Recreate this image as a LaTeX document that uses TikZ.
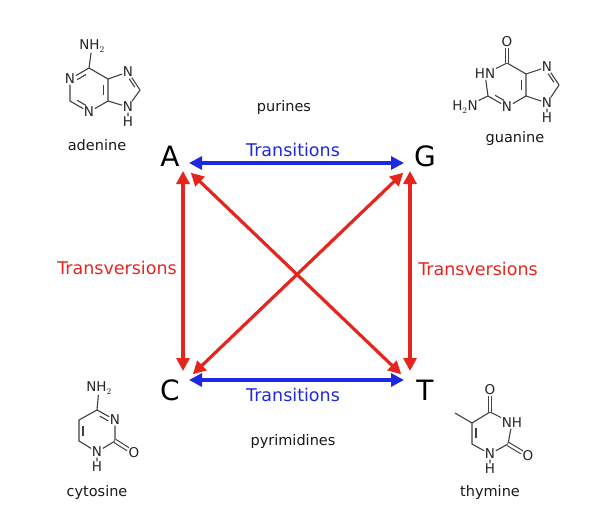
\documentclass[tikz,border=0pt]{standalone}
\usepackage{fontspec}
\setmainfont{DejaVu Sans}
\usetikzlibrary{arrows.meta,calc}
\definecolor{tred}{RGB}{228,38,30}
\definecolor{tblue}{RGB}{30,40,225}
\newcommand{\innerbond}[3]{\draw[bond] ($ ($(#1)!0.2!(#2)$)!0.22!(#3) $) -- ($ ($(#2)!0.2!(#1)$)!0.22!(#3) $);}
\begin{document}
\begin{tikzpicture}[x=1pt,y=-1pt,
  bond/.style={line width=1.1pt,draw=black!75},
  atom/.style={font=\fontsize{13.5}{13.5}\selectfont,inner sep=0.6pt,text=black!85},
  lbl/.style={font=\fontsize{14.5}{14.5}\selectfont,text=black!90},
  base/.style={font=\fontsize{28}{28}\selectfont},
  red arr/.style={draw=tred,line width=3.2pt,{Triangle[length=13pt,width=13pt]}-{Triangle[length=13pt,width=13pt]},shorten <=1pt,shorten >=1pt},
  blue arr/.style={red arr,draw=tblue},
  ttl/.style={font=\fontsize{17.5}{17.5}\selectfont}]
\useasboundingbox (0,0) rectangle (607,527);
% bases
\node[base] (A) at (170,156) {A};
\node[base] (G) at (425,156) {G};
\node[base] (C) at (170,390) {C};
\node[base] (T) at (425,390) {T};
\coordinate (Atr) at (188,163); \coordinate (Gtl) at (405,163);
\coordinate (Cbr) at (188,380); \coordinate (Tbl) at (405,380);
\coordinate (Al) at (183,170); \coordinate (Cl) at (183,372);
\coordinate (Gr) at (410,170); \coordinate (Tr) at (410,372);
\coordinate (Ad) at (190,172); \coordinate (Td) at (402,375);
\coordinate (Gd) at (404,172); \coordinate (Cd) at (192,375);
\draw[blue arr] (Atr) -- (Gtl);
\draw[blue arr] (Cbr) -- (Tbl);
\draw[red arr] (Al) -- (Cl);
\draw[red arr] (Gr) -- (Tr);
\draw[red arr] (Ad) -- (Td);
\draw[red arr] (Gd) -- (Cd);
\node[ttl,text=tblue] (t1) at (293,150) {Transitions};
\node[ttl,text=tblue] (t2) at (293,395) {Transitions};
\node[ttl,text=tred] (v1) at (117,268) {Transversions};
\node[ttl,text=tred] (v2) at (478,269) {Transversions};
\node[lbl] (pur) at (284,107) {purines};
\node[lbl] (pyr) at (293,441) {pyrimidines};
% adenine
\coordinate (ac) at (89,90);
\coordinate (a6) at (89,68); \node[atom] (a1) at (70,79) {N}; \coordinate (a2) at (70,101);
\node[atom] (a3) at (89,112) {N}; \coordinate (a4) at (108,101); \coordinate (a5) at (108,79);
\node[atom] (a7) at (128,72) {N}; \coordinate (a8) at (140,90); \node[atom] (a9) at (128,107) {N};
\node[atom] (a9h) at (128,122) {H};
\node[atom] (anh) at (92,46) {NH$_2$};
\coordinate (apc) at (125,90);
\draw[bond] (a6)--(a1) (a1)--(a2) (a2)--(a3) (a3)--(a4)--(a5)--(a6) (a5)--(a7) (a7)--(a8) (a8)--(a9) (a9)--(a4) (a6)--(anh) (a9)--(a9h);
\innerbond{a6}{a1}{ac}\innerbond{a2}{a3}{ac}\innerbond{a4}{a5}{ac}\innerbond{a7}{a8}{apc}
\node[lbl] (aname) at (97,145) {adenine};
% guanine
\coordinate (gc) at (507,85);
\coordinate (g6) at (507,63); \node[atom] (g1) at (485,74) {HN}; \coordinate (g2) at (488,96);
\node[atom] (g3) at (507,107) {N}; \coordinate (g4) at (526,96); \coordinate (g5) at (526,74);
\node[atom] (g7) at (547,67) {N}; \coordinate (g8) at (559,85); \node[atom] (g9) at (547,103) {N};
\node[atom] (g9h) at (547,118) {H};
\node[atom] (go) at (507,42) {O};
\node[atom] (gnh) at (465,107) {H$_2$N};
\coordinate (gpc) at (544,85);
\draw[bond] (g6)--(g1) (g1)--(g2) (g2)--(g3) (g3)--(g4)--(g5)--(g6) (g5)--(g7) (g7)--(g8) (g8)--(g9) (g9)--(g4) (g2)--(gnh) (g9)--(g9h);
\draw[bond,double,double distance=2.4pt] (g6)--(go);
\innerbond{g2}{g3}{gc}\innerbond{g4}{g5}{gc}\innerbond{g7}{g8}{gpc}
\node[lbl] (gname) at (515,138) {guanine};
% cytosine
\coordinate (cc) at (97,431);
\coordinate (c4) at (97,410); \node[atom] (c3) at (115,420) {N}; \coordinate (c2) at (115,441);
\node[atom] (c1) at (97,452) {N}; \coordinate (c6) at (79,441); \coordinate (c5) at (79,420);
\node[atom] (c1h) at (97,467) {H};
\node[atom] (cnh) at (99,388) {NH$_2$};
\node[atom] (co) at (134,453) {O};
\draw[bond] (c4)--(c3) (c3)--(c2) (c2)--(c1) (c1)--(c6)--(c5)--(c4) (c4)--(cnh) (c1)--(c1h);
\draw[bond,double,double distance=2.4pt] (c2)--(co);
\innerbond{c4}{c3}{cc}\innerbond{c6}{c5}{cc}
\node[lbl] (cname) at (97,492) {cytosine};
% thymine
\coordinate (tc) at (490,433);
\coordinate (t4) at (490,412); \node[atom] (t3) at (512,423) {NH}; \coordinate (t2) at (508,444);
\node[atom] (t1) at (490,454) {N}; \coordinate (t6) at (472,444); \coordinate (t5) at (472,423);
\node[atom] (t1h) at (490,469) {H};
\node[atom] (to4) at (490,390) {O};
\node[atom] (to2) at (528,456) {O};
\coordinate (tme) at (455,413);
\draw[bond] (t4)--(t3) (t3)--(t2) (t2)--(t1) (t1)--(t6)--(t5)--(t4) (t5)--(tme) (t1)--(t1h);
\draw[bond,double,double distance=2.4pt] (t4)--(to4);
\draw[bond,double,double distance=2.4pt] (t2)--(to2);
\innerbond{t6}{t5}{tc}
\node[lbl] (tname) at (490,492) {thymine};
\end{tikzpicture}
\end{document}
